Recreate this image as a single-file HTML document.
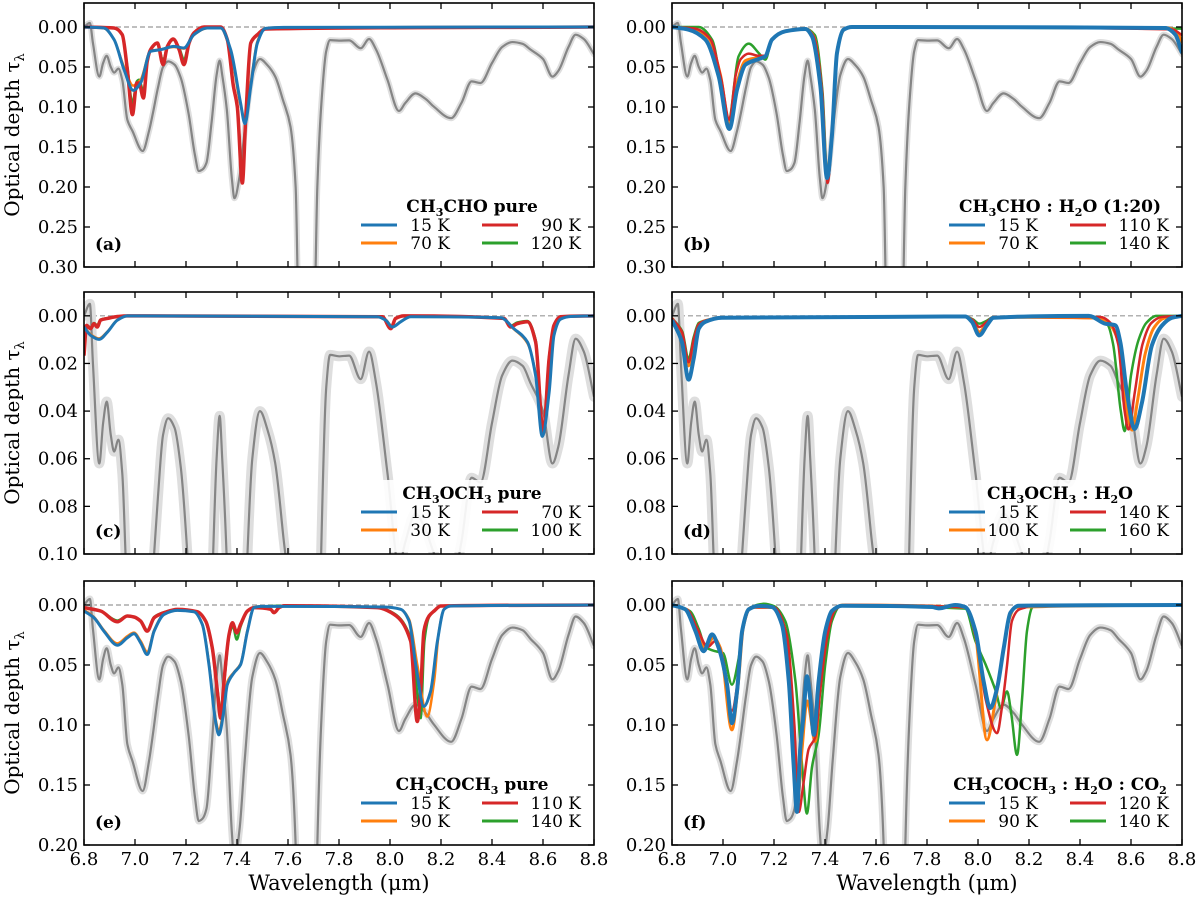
<!DOCTYPE html>
<html><head><meta charset="utf-8"><title>Optical depth spectra</title>
<style>
html,body{margin:0;padding:0;background:#fff;width:1200px;height:902px;overflow:hidden;}
svg{display:block;font-family:"DejaVu Serif","Liberation Serif",serif;}
</style></head>
<body>
<svg id="fig" width="1200" height="902" viewBox="0 0 1200 902" xmlns="http://www.w3.org/2000/svg"></svg>
<script>
// ---------- shared observed spectrum (gray) ----------
const obsWl = [6.800,6.823,6.835,6.860,6.875,6.889,6.905,6.918,6.935,6.950,6.970,6.990,7.030,7.055,7.070,7.090,7.110,7.130,7.155,7.180,7.210,7.235,7.250,7.265,7.280,7.300,7.320,7.332,7.342,7.360,7.380,7.390,7.410,7.430,7.460,7.490,7.520,7.550,7.580,7.610,7.630,7.645,7.700,7.715,7.730,7.750,7.765,7.800,7.840,7.885,7.918,7.945,7.990,8.035,8.060,8.100,8.140,8.170,8.240,8.280,8.320,8.355,8.400,8.440,8.480,8.520,8.550,8.600,8.637,8.660,8.700,8.728,8.760,8.800];
const obsTau = [0.000,-0.005,0.020,0.062,0.045,0.036,0.050,0.057,0.052,0.066,0.116,0.130,0.155,0.130,0.108,0.076,0.050,0.043,0.047,0.064,0.108,0.160,0.180,0.178,0.170,0.120,0.060,0.042,0.060,0.103,0.190,0.214,0.187,0.130,0.060,0.040,0.048,0.062,0.091,0.125,0.200,0.400,0.400,0.200,0.100,0.030,0.0164,0.017,0.0167,0.0266,0.015,0.028,0.066,0.105,0.095,0.083,0.090,0.099,0.114,0.095,0.068,0.070,0.045,0.025,0.0188,0.021,0.028,0.040,0.062,0.055,0.025,0.0096,0.015,0.034];

// ---------- panel (a) CH3CHO pure ----------
const a15K = [[6.80,0],[6.878,0.0013],[6.918,0.0158],[6.957,0.0533],[6.993,0.0792],[7.022,0.070],[7.061,0.0304],[7.101,0.0283],[7.153,0.0242],[7.192,0.0262],[7.231,0.0096],[7.284,0.0013],[7.336,0.0013],[7.375,0.0283],[7.414,0.095],[7.431,0.1208],[7.454,0.0742],[7.480,0.020],[7.512,0.0017],[7.584,0.0004],[8.80,0]];
const a70K = [[6.80,0],[6.878,0.0015],[6.915,0.0140],[6.957,0.0500],[6.993,0.0733],[7.022,0.0660],[7.061,0.0300],[7.101,0.0280],[7.153,0.0250],[7.192,0.0270],[7.231,0.0100],[7.284,0.0015],[7.336,0.0015],[7.375,0.0300],[7.414,0.098],[7.431,0.1150],[7.454,0.0700],[7.480,0.018],[7.512,0.0015],[7.584,0.0004],[8.80,0]];
const a90K = [[6.80,0],[6.918,0.0013],[6.950,0.0096],[6.970,0.0533],[6.990,0.1096],[7.007,0.070],[7.016,0.070],[7.033,0.0888],[7.048,0.0429],[7.061,0.0283],[7.088,0.020],[7.110,0.0471],[7.127,0.0242],[7.150,0.015],[7.173,0.0283],[7.192,0.0471],[7.212,0.020],[7.231,0.0075],[7.271,0],[7.336,0],[7.362,0.0158],[7.386,0.0742],[7.401,0.0992],[7.421,0.195],[7.434,0.1158],[7.454,0.020],[7.480,0.0096],[7.512,0.0025],[8.80,0]];
const a120K = [[6.80,0],[6.918,0.0013],[6.950,0.0096],[6.970,0.050],[6.990,0.095],[7.007,0.068],[7.016,0.066],[7.033,0.080],[7.048,0.042],[7.061,0.028],[7.088,0.020],[7.110,0.042],[7.127,0.024],[7.150,0.016],[7.173,0.026],[7.192,0.040],[7.212,0.019],[7.231,0.007],[7.271,0],[7.336,0],[7.362,0.015],[7.386,0.072],[7.401,0.098],[7.421,0.180],[7.434,0.110],[7.454,0.020],[7.480,0.009],[7.512,0.002],[8.80,0]];

// ---------- panel (b) CH3CHO:H2O ----------
const b15K = [[6.80,0],[6.865,0.0033],[6.931,0.0158],[6.983,0.0617],[7.025,0.1275],[7.055,0.0783],[7.088,0.0471],[7.140,0.040],[7.166,0.0367],[7.192,0.0158],[7.244,0.0054],[7.323,0.0025],[7.349,0.0117],[7.382,0.0742],[7.408,0.1888],[7.427,0.1367],[7.447,0.0325],[7.473,0.0033],[7.506,0],[8.735,0.0013],[8.774,0.0096],[8.80,0.0325]];
const b70K = [[6.80,0],[6.878,0.002],[6.944,0.014],[6.990,0.060],[7.025,0.120],[7.055,0.070],[7.088,0.042],[7.140,0.038],[7.166,0.036],[7.192,0.0158],[7.244,0.005],[7.323,0.002],[7.356,0.012],[7.386,0.075],[7.410,0.190],[7.430,0.120],[7.450,0.025],[7.480,0.002],[7.510,0],[8.740,0.001],[8.780,0.006],[8.80,0.020]];
const b110K = [[6.80,0],[6.890,0.002],[6.950,0.015],[6.993,0.065],[7.025,0.1158],[7.050,0.060],[7.070,0.040],[7.101,0.0333],[7.140,0.036],[7.166,0.036],[7.192,0.0158],[7.244,0.005],[7.323,0.002],[7.356,0.012],[7.388,0.078],[7.410,0.195],[7.430,0.120],[7.450,0.025],[7.480,0.002],[7.510,0],[8.760,0.003],[8.80,0.010]];
const b140K = [[6.80,0],[6.905,0],[6.957,0.0158],[7.022,0.1158],[7.061,0.0367],[7.101,0.0208],[7.140,0.0325],[7.166,0.0408],[7.192,0.0158],[7.244,0.005],[7.323,0.002],[7.360,0.010],[7.390,0.080],[7.410,0.190],[7.430,0.120],[7.450,0.025],[7.480,0.002],[7.510,0],[8.80,0.002]];

// ---------- panel (c) CH3OCH3 pure ----------
const c15K = [[6.80,0.0047],[6.826,0.0082],[6.859,0.0099],[6.892,0.0068],[6.931,0.0018],[6.970,0],[7.950,0.0004],[7.983,0.0018],[8.009,0.0047],[8.042,0.0025],[8.081,0.0004],[8.434,0.0008],[8.486,0.0054],[8.539,0.011],[8.571,0.0251],[8.597,0.0506],[8.624,0.0322],[8.643,0.0082],[8.669,0.0014],[8.708,0.0003],[8.80,0]];
const c30K = [[6.80,0.0045],[6.826,0.0078],[6.859,0.0095],[6.892,0.0066],[6.931,0.0017],[6.970,0],[7.950,0.0004],[7.983,0.0016],[8.009,0.0045],[8.042,0.0024],[8.081,0.0004],[8.434,0.0008],[8.486,0.0056],[8.539,0.0115],[8.571,0.024],[8.598,0.049],[8.624,0.031],[8.643,0.008],[8.669,0.0014],[8.708,0.0003],[8.80,0]];
const c70K = [[6.80,0.0167],[6.810,0.004],[6.826,0.0054],[6.839,0.0033],[6.852,0.0047],[6.865,0.0018],[6.892,0.0011],[6.931,0.0003],[6.970,0],[7.970,0.0004],[8.003,0.0054],[8.022,0.0011],[8.055,0],[8.447,0.0011],[8.473,0.0047],[8.499,0.0033],[8.539,0.0025],[8.571,0.011],[8.601,0.0492],[8.624,0.018],[8.643,0.004],[8.669,0.0004],[8.80,0]];
const c100K = [[6.80,0.015],[6.810,0.004],[6.826,0.005],[6.839,0.003],[6.852,0.004],[6.865,0.0016],[6.892,0.001],[6.931,0.0003],[6.970,0],[7.970,0.0004],[8.003,0.0050],[8.022,0.001],[8.055,0],[8.447,0.001],[8.473,0.0042],[8.499,0.0028],[8.539,0.0022],[8.571,0.010],[8.601,0.048],[8.624,0.017],[8.643,0.004],[8.669,0.0004],[8.80,0]];

// ---------- panel (d) CH3OCH3:H2O ----------
const d15K = [[6.80,0.0018],[6.839,0.011],[6.865,0.0268],[6.885,0.018],[6.905,0.0054],[6.931,0.0025],[6.996,0.0008],[7.950,0.0003],[7.976,0.0025],[8.005,0.0082],[8.035,0.004],[8.061,0.0008],[8.434,0],[8.499,0.0033],[8.539,0.004],[8.558,0.011],[8.584,0.0322],[8.614,0.0475],[8.643,0.0364],[8.682,0.0124],[8.722,0.004],[8.761,0.0008],[8.80,0]];
const d100K = [[6.80,0.001],[6.840,0.008],[6.865,0.021],[6.885,0.012],[6.905,0.004],[6.931,0.002],[6.996,0.0008],[7.950,0.0003],[7.980,0.002],[8.005,0.0068],[8.035,0.003],[8.061,0.0006],[8.480,0.001],[8.520,0.004],[8.560,0.015],[8.584,0.040],[8.604,0.048],[8.625,0.036],[8.656,0.0158],[8.690,0.005],[8.730,0.001],[8.80,0]];
const d140K = [[6.80,0.001],[6.840,0.007],[6.865,0.0195],[6.885,0.010],[6.905,0.0035],[6.931,0.002],[6.996,0.0008],[7.950,0.0003],[7.980,0.0018],[8.005,0.0047],[8.035,0.0025],[8.061,0.0005],[8.480,0.0005],[8.520,0.003],[8.550,0.012],[8.575,0.040],[8.590,0.0477],[8.615,0.032],[8.645,0.012],[8.680,0.003],[8.720,0.0005],[8.80,0]];
const d160K = [[6.80,0.001],[6.840,0.0065],[6.865,0.018],[6.885,0.009],[6.905,0.003],[6.931,0.002],[6.996,0.0008],[7.950,0.0003],[7.980,0.0015],[8.005,0.0033],[8.035,0.002],[8.061,0.0005],[8.470,0.0005],[8.510,0.004],[8.530,0.012],[8.560,0.040],[8.575,0.0484],[8.600,0.025],[8.630,0.010],[8.660,0.003],[8.700,0],[8.80,0]];

// ---------- panel (e) CH3COCH3 pure ----------
const e15K = [[6.80,0.005],[6.839,0.0106],[6.878,0.0218],[6.931,0.0335],[6.970,0.0273],[6.996,0.024],[7.022,0.0315],[7.048,0.0413],[7.075,0.0218],[7.114,0.0078],[7.166,0.0045],[7.231,0.0056],[7.264,0.0162],[7.290,0.0497],[7.316,0.097],[7.329,0.1082],[7.346,0.0915],[7.362,0.0664],[7.388,0.0566],[7.414,0.0497],[7.441,0.0218],[7.467,0.0022],[7.493,0.0011],[7.976,0.0017],[8.042,0.0036],[8.075,0.0134],[8.101,0.0497],[8.133,0.0845],[8.159,0.072],[8.186,0.0301],[8.212,0.0036],[8.238,0.0008],[8.80,0]];
const e90K = [[6.80,0.004],[6.839,0.010],[6.878,0.021],[6.931,0.032],[6.970,0.026],[6.996,0.023],[7.022,0.030],[7.048,0.039],[7.075,0.021],[7.114,0.0075],[7.166,0.0045],[7.231,0.0056],[7.264,0.0162],[7.290,0.048],[7.316,0.095],[7.329,0.105],[7.346,0.088],[7.362,0.064],[7.388,0.056],[7.414,0.049],[7.441,0.021],[7.467,0.002],[7.493,0.001],[7.976,0.0017],[8.042,0.0036],[8.075,0.012],[8.107,0.0497],[8.146,0.0929],[8.173,0.0636],[8.192,0.0218],[8.212,0.0036],[8.238,0.0008],[8.80,0]];
const e110K = [[6.80,0.0022],[6.865,0.005],[6.931,0.014],[6.970,0.0092],[6.996,0.010],[7.022,0.0134],[7.048,0.0218],[7.075,0.0106],[7.114,0.0064],[7.166,0.0036],[7.244,0.0056],[7.277,0.0134],[7.303,0.0357],[7.323,0.072],[7.336,0.0943],[7.349,0.0636],[7.369,0.0245],[7.382,0.0148],[7.399,0.0232],[7.414,0.0162],[7.441,0.005],[7.467,0.0022],[7.532,0.0036],[7.545,0.0064],[7.565,0.0022],[7.584,0.0006],[7.950,0.0022],[8.016,0.0078],[8.081,0.0301],[8.107,0.0971],[8.120,0.072],[8.133,0.0218],[8.153,0.0092],[8.173,0.005],[8.199,0.0008],[8.80,0]];
const e140K = [[6.80,0.002],[6.865,0.005],[6.931,0.013],[6.970,0.009],[6.996,0.010],[7.022,0.013],[7.048,0.021],[7.075,0.010],[7.114,0.006],[7.166,0.0036],[7.244,0.0056],[7.277,0.014],[7.303,0.037],[7.323,0.070],[7.338,0.090],[7.352,0.060],[7.369,0.026],[7.384,0.018],[7.399,0.0288],[7.414,0.018],[7.441,0.005],[7.467,0.002],[7.584,0.0006],[7.950,0.002],[8.016,0.007],[8.085,0.030],[8.110,0.080],[8.120,0.0943],[8.135,0.030],[8.153,0.010],[8.173,0.005],[8.199,0.0008],[8.80,0]];

// ---------- panel (f) CH3COCH3:H2O:CO2 ----------
const f15K = [[6.80,0],[6.852,0.0036],[6.892,0.0218],[6.924,0.0385],[6.957,0.0245],[6.983,0.0357],[7.016,0.0664],[7.035,0.0985],[7.055,0.072],[7.075,0.0218],[7.101,0.0036],[7.140,0.0008],[7.192,0.0017],[7.231,0.0162],[7.258,0.0636],[7.277,0.1333],[7.290,0.1724],[7.303,0.1194],[7.316,0.0915],[7.329,0.0594],[7.342,0.0776],[7.356,0.1082],[7.375,0.0636],[7.401,0.0218],[7.427,0.005],[7.467,0.0006],[7.820,0.0017],[7.846,0.0028],[7.911,0],[7.950,0.0017],[7.990,0.0218],[8.022,0.0636],[8.048,0.0859],[8.075,0.0692],[8.101,0.0357],[8.127,0.0064],[8.159,0.0006],[8.80,0]];
const f90K = [[6.80,0],[6.860,0.004],[6.900,0.025],[6.931,0.0357],[6.963,0.0273],[6.990,0.036],[7.035,0.1041],[7.060,0.065],[7.080,0.018],[7.110,0.002],[7.190,0.002],[7.240,0.018],[7.265,0.070],[7.290,0.170],[7.310,0.120],[7.330,0.080],[7.362,0.1138],[7.380,0.070],[7.405,0.025],[7.430,0.005],[7.470,0],[7.950,0.002],[7.990,0.025],[8.035,0.1124],[8.068,0.080],[8.094,0.045],[8.120,0.0134],[8.146,0.002],[8.80,0]];
const f120K = [[6.80,0],[6.860,0.004],[6.900,0.020],[6.940,0.035],[6.970,0.030],[7.000,0.045],[7.035,0.088],[7.060,0.060],[7.080,0.018],[7.110,0.002],[7.200,0.002],[7.250,0.025],[7.280,0.100],[7.297,0.1724],[7.316,0.148],[7.336,0.120],[7.362,0.110],[7.382,0.070],[7.410,0.025],[7.440,0.004],[7.480,0],[7.950,0.002],[8.000,0.035],[8.029,0.0776],[8.075,0.1068],[8.094,0.085],[8.114,0.050],[8.133,0.0134],[8.159,0.004],[8.186,0.002],[8.210,0],[8.80,0]];
const f140K = [[6.80,0],[6.870,0.005],[6.905,0.020],[6.931,0.035],[6.970,0.0385],[7.000,0.040],[7.035,0.0664],[7.061,0.045],[7.080,0.016],[7.110,0.002],[7.160,-0.001],[7.200,0.001],[7.244,0.0134],[7.284,0.0636],[7.310,0.1333],[7.329,0.1738],[7.349,0.135],[7.375,0.1082],[7.401,0.0497],[7.427,0.0134],[7.460,0.001],[7.950,0.003],[7.990,0.0301],[8.030,0.0497],[8.070,0.072],[8.090,0.0859],[8.114,0.072],[8.131,0.0915],[8.153,0.1249],[8.173,0.0776],[8.192,0.0218],[8.212,0.0022],[8.225,0],[8.80,0]];

// ---------- tick labels ----------
const xTicks = [6.8,7.0,7.2,7.4,7.6,7.8,8.0,8.2,8.4,8.6,8.8];
const yTicksRow1 = [0.00,0.05,0.10,0.15,0.20,0.25,0.30];
const yTicksRow2 = [0.00,0.02,0.04,0.06,0.08,0.10];
const yTicksRow3 = [0.00,0.05,0.10,0.15,0.20];

const NS = "http://www.w3.org/2000/svg";
const svg = document.getElementById('fig');
const COLORS = {blue:'#1f77b4', orange:'#ff7f0e', red:'#d62728', green:'#2ca02c'};

function mk(tag, attrs, parent){
  const e = document.createElementNS(NS, tag);
  for (const k in attrs) e.setAttribute(k, attrs[k]);
  (parent||svg).appendChild(e);
  return e;
}
function smoothPath(pts){
  const n = pts.length;
  if (n < 2) return '';
  const dx = [], m = [];
  for (let i = 0; i < n-1; i++){
    dx.push(pts[i+1][0]-pts[i][0]);
    m.push((pts[i+1][1]-pts[i][1]) / (dx[i] || 1e-6));
  }
  const t = new Array(n);
  t[0] = m[0]; t[n-1] = m[n-2];
  for (let i = 1; i < n-1; i++){
    if (m[i-1]*m[i] <= 0) t[i] = 0;
    else {
      const w1 = 2*dx[i] + dx[i-1], w2 = dx[i] + 2*dx[i-1];
      t[i] = (w1 + w2) / (w1/m[i-1] + w2/m[i]);
    }
  }
  let d = 'M' + pts[0][0].toFixed(2) + ',' + pts[0][1].toFixed(2);
  for (let i = 0; i < n-1; i++){
    const h = dx[i]/3;
    d += ' C' + (pts[i][0]+h).toFixed(2)+','+(pts[i][1]+t[i]*h).toFixed(2)+' '+(pts[i+1][0]-h).toFixed(2)+','+(pts[i+1][1]-t[i+1]*h).toFixed(2)+' '+pts[i+1][0].toFixed(2)+','+pts[i+1][1].toFixed(2);
  }
  return d;
}

const panels = [
  {id:'a', x0:84, x1:594, y0:3, y1:267, tmin:-0.03, tmax:0.30, ticks:yTicksRow1, band:6,
   title:'CH<tspan font-size="11" dy="4">3</tspan><tspan dy="-4">CHO pure</tspan>',
   labels:['15 K','70 K','90 K','120 K'],
   series:[[a120K,'green',2.5],[a70K,'orange',2.5],[a90K,'red',3.5],[a15K,'blue',3]]},
  {id:'b', x0:672, x1:1182, y0:3, y1:267, tmin:-0.03, tmax:0.30, ticks:yTicksRow1, band:6,
   title:'CH<tspan font-size="11" dy="4">3</tspan><tspan dy="-4">CHO : H</tspan><tspan font-size="11" dy="4">2</tspan><tspan dy="-4">O (1:20)</tspan>',
   labels:['15 K','70 K','110 K','140 K'],
   series:[[b140K,'green',2.5],[b70K,'orange',3],[b110K,'red',2.5],[b15K,'blue',4]]},
  {id:'c', x0:84, x1:594, y0:292, y1:554, tmin:-0.01, tmax:0.10, ticks:yTicksRow2, band:10,
   title:'CH<tspan font-size="11" dy="4">3</tspan><tspan dy="-4">OCH</tspan><tspan font-size="11" dy="4">3</tspan><tspan dy="-4"> pure</tspan>',
   labels:['15 K','30 K','70 K','100 K'],
   series:[[c100K,'green',2.5],[c30K,'orange',2.5],[c70K,'red',3.5],[c15K,'blue',3]]},
  {id:'d', x0:672, x1:1182, y0:292, y1:554, tmin:-0.01, tmax:0.10, ticks:yTicksRow2, band:10,
   title:'CH<tspan font-size="11" dy="4">3</tspan><tspan dy="-4">OCH</tspan><tspan font-size="11" dy="4">3</tspan><tspan dy="-4"> : H</tspan><tspan font-size="11" dy="4">2</tspan><tspan dy="-4">O</tspan>',
   labels:['15 K','100 K','140 K','160 K'],
   series:[[d160K,'green',2.5],[d100K,'orange',3],[d140K,'red',2.5],[d15K,'blue',4]]},
  {id:'e', x0:84, x1:594, y0:581, y1:845, tmin:-0.02, tmax:0.20, ticks:yTicksRow3, band:7,
   title:'CH<tspan font-size="11" dy="4">3</tspan><tspan dy="-4">COCH</tspan><tspan font-size="11" dy="4">3</tspan><tspan dy="-4"> pure</tspan>',
   labels:['15 K','90 K','110 K','140 K'],
   series:[[e140K,'green',2.5],[e90K,'orange',2.5],[e110K,'red',3.5],[e15K,'blue',3]]},
  {id:'f', x0:672, x1:1182, y0:581, y1:845, tmin:-0.02, tmax:0.20, ticks:yTicksRow3, band:7,
   title:'CH<tspan font-size="11" dy="4">3</tspan><tspan dy="-4">COCH</tspan><tspan font-size="11" dy="4">3</tspan><tspan dy="-4"> : H</tspan><tspan font-size="11" dy="4">2</tspan><tspan dy="-4">O : CO</tspan><tspan font-size="11" dy="4">2</tspan>',
   labels:['15 K','90 K','120 K','140 K'],
   series:[[f140K,'green',2.5],[f90K,'orange',3],[f120K,'red',2.5],[f15K,'blue',4]]}
];
const legendColors = ['blue','orange','red','green'];

panels.forEach(p => {
  const g = mk('g', {});
  
  
  const xs = wl => p.x0 + (wl - 6.8) / 2.0 * (p.x1 - p.x0);
  const ys = t => p.y0 + (t - p.tmin) / (p.tmax - p.tmin) * (p.y1 - p.y0);

  const defs = mk('defs', {}, g);
  const cp = mk('clipPath', {id:'clip-'+p.id}, defs);
  mk('rect', {x:p.x0, y:p.y0, width:p.x1-p.x0, height:p.y1-p.y0}, cp);

  const plot = mk('g', {'clip-path':'url(#clip-'+p.id+')'}, g);
  const zl = mk('line', {x1:p.x0, x2:p.x1, y1:ys(0), y2:ys(0), stroke:'#999', 'stroke-width':1.2, 'stroke-dasharray':'5,3'}, plot);
  
  
  const obsPts = obsWl.map((w,i) => [xs(w), ys(obsTau[i])]);
  const band = mk('path', {d:smoothPath(obsPts), fill:'none', stroke:'#dedede', 'stroke-width':p.band, 'stroke-linejoin':'round', 'stroke-linecap':'round'}, plot);
  
  
  const obs = mk('path', {d:smoothPath(obsPts), fill:'none', stroke:'#858585', 'stroke-width':2.2, 'stroke-linejoin':'round'}, plot);
  
  

  const lb = mk('rect', {x:p.x0+268, y:p.y1-74, width:p.x1-p.x0-270, height:72, fill:'#fff', opacity:0.9}, plot);
  
  

  p.series.forEach(s => {
    const pts = s[0].map(q => [xs(q[0]), ys(q[1])]);
    const path = mk('path', {d:smoothPath(pts), fill:'none', stroke:COLORS[s[1]], 'stroke-width':s[2], 'stroke-linejoin':'round'}, plot);
    
    
  });

  const fr = mk('rect', {x:p.x0, y:p.y0, width:p.x1-p.x0, height:p.y1-p.y0, fill:'none', stroke:'#000', 'stroke-width':1.6}, g);
  
  

  xTicks.forEach(v => {
    const x = xs(v);
    mk('line', {x1:x, x2:x, y1:p.y1, y2:p.y1-6, stroke:'#000', 'stroke-width':1.3}, g);
    mk('line', {x1:x, x2:x, y1:p.y0, y2:p.y0+6, stroke:'#000', 'stroke-width':1.3}, g);
    if (p.id === 'e' || p.id === 'f'){
      const t = mk('text', {x:x, y:p.y1+20, 'text-anchor':'middle', 'font-size':18, fill:'#000'}, g);
      t.textContent = v.toFixed(1);
      
      
    }
  });
  p.ticks.forEach(v => {
    const y = ys(v);
    mk('line', {x1:p.x0, x2:p.x0+6, y1:y, y2:y, stroke:'#000', 'stroke-width':1.3}, g);
    mk('line', {x1:p.x1, x2:p.x1-6, y1:y, y2:y, stroke:'#000', 'stroke-width':1.3}, g);
    const t = mk('text', {x:p.x0-6, y:y+6, 'text-anchor':'end', 'font-size':18, fill:'#000'}, g);
    t.textContent = v.toFixed(2);
    
    
  });

  const pl = mk('text', {x:p.x0+11, y:p.y1-17, 'font-size':17, 'font-weight':'bold', fill:'#000'}, g);
  pl.textContent = '(' + p.id + ')';
  
  

  const lg = mk('g', {}, g);
  
  
  const tt = mk('text', {x:p.x0+388, y:p.y1-55, 'text-anchor':'middle', 'font-size':17, 'font-weight':'bold', fill:'#000'}, lg);
  tt.innerHTML = p.title;
  
  
  [0,1,2,3].forEach(i => {
    const col = i < 2 ? 0 : 1, row = i % 2;
    const ly = p.y1 - 42 + row * 18;
    const lx = p.x0 + (col ? 398 : 277);
    const ln = mk('line', {x1:lx, x2:lx+36, y1:ly, y2:ly, stroke:COLORS[legendColors[i]], 'stroke-width':3}, lg);
    
    
    const tx = mk('text', {x:p.x0 + (col ? 497 : 366), y:ly+6, 'text-anchor':'end', 'font-size':17, fill:'#000'}, lg);
    tx.textContent = p.labels[i];
    
    
  });
});

[135, 423, 713].forEach(cy => {
  const t = mk('text', {x:0, y:0, transform:'translate(19,'+cy+') rotate(-90)', 'text-anchor':'middle', 'font-size':20, fill:'#000'});
  t.innerHTML = 'Optical depth τ<tspan font-size="13" dy="5">λ</tspan>';
  
  
});
[339, 927].forEach(cx => {
  const t = mk('text', {x:cx, y:890, 'text-anchor':'middle', 'font-size':21, fill:'#000'});
  t.textContent = 'Wavelength (μm)';
  
  
});
</script>
</body></html>
